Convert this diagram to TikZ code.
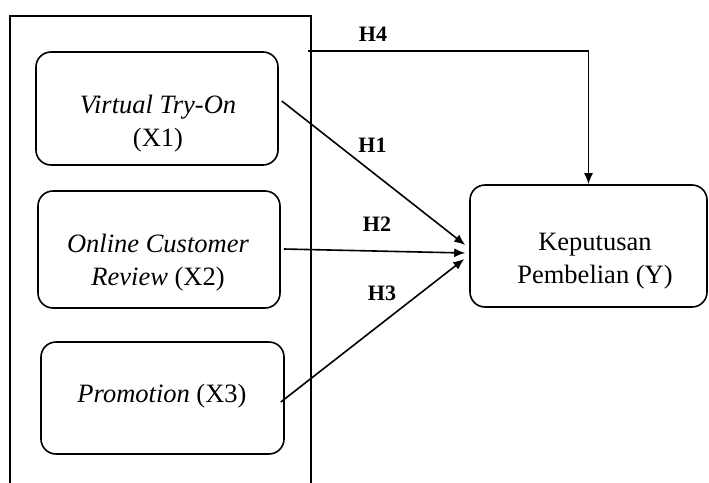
\documentclass[tikz,border=0pt]{standalone}
\usepackage{fontspec}
\setmainfont{Liberation Serif}
\usetikzlibrary{arrows.meta,calc}
\begin{document}
\begin{tikzpicture}[x=1pt,y=-1pt,line width=1.6pt,
  rbox/.style={draw,rounded corners=15pt,inner sep=0pt},
  txt/.style={align=center,inner sep=0pt,font=\fontsize{26.5}{33}\selectfont},
  hlab/.style={inner sep=0pt,font=\fontsize{22}{26}\selectfont\bfseries},
  arr/.style={-{Latex[length=11pt,width=9pt]}}]
\useasboundingbox (0,0) rectangle (709,482);
% outer frame (open at bottom)
\draw (10,485) -- (10,16) -- (311,16) -- (311,485);
% boxes
\node[rbox,minimum width=242pt,minimum height=113pt] (x1) at (157,108.5) {};
\node[rbox,minimum width=242pt,minimum height=117pt] (x2) at (159,249.5) {};
\node[rbox,minimum width=243pt,minimum height=112pt] (x3) at (162.5,398) {};
\node[rbox,minimum width=237pt,minimum height=122pt] (y) at (588.5,246) {};
% texts
\node[txt] (t1) at (158,124) {\textit{Virtual Try-On}\\(X1)};
\node[txt] (t2) at (158,263) {\textit{Online Customer}\\\textit{Review} (X2)};
\node[txt] (t3) at (162,396) {\textit{Promotion} (X3)};
\node[txt] (ty) at (595,261.5) {Keputusan\\Pembelian (Y)};
% connectors
\coordinate (s1) at ($(x1.east)+(3,-7.5)$);
\coordinate (s2) at ($(x2.east)+(3,-0.5)$);
\coordinate (s3) at ($(x3.east)+(-4,4)$);
\coordinate (e1) at ($(y.west)+(-4,-1)$);
\coordinate (e2) at ($(y.west)+(-4,7)$);
\coordinate (e3) at ($(y.west)+(-5,13)$);
\coordinate (h4s) at (308,51);
\draw[arr] (s1) -- (e1);
\draw[arr] (s2) -- (e2);
\draw[arr] (s3) -- (e3);
\draw[arr] (h4s) -| (y.north);
% labels
\node[hlab] (l4) at (373,34.5) {H4};
\node[hlab] (l1) at (372.5,145.5) {H1};
\node[hlab] (l2) at (377,224.5) {H2};
\node[hlab] (l3) at (382,293.5) {H3};
\end{tikzpicture}
\end{document}
